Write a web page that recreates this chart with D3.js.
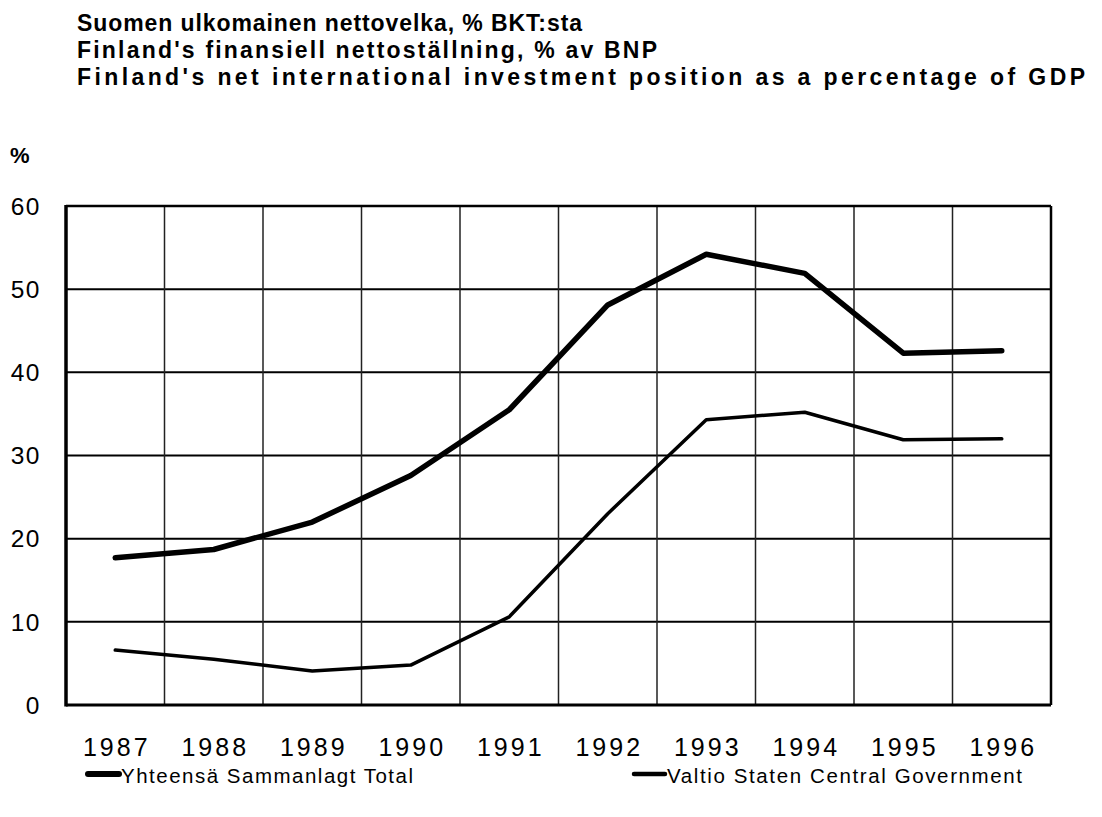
<!DOCTYPE html>
<html><head><meta charset="utf-8">
<script src="https://cdn.jsdelivr.net/npm/d3@7"></script>
<style>body{margin:0;background:#fff}svg{display:block}</style>
</head><body><svg id="c" width="1102" height="817"></svg>
<script>
const years = ["1987","1988","1989","1990","1991","1992","1993","1994","1995","1996"];
const totalValues = [17.7, 18.7, 22.0, 27.6, 35.5, 48.1, 54.2, 51.9, 42.3, 42.6];
const governmentValues = [6.6, 5.5, 4.1, 4.8, 10.6, 23.0, 34.3, 35.2, 31.9, 32.0];
const yTicks = [0, 10, 20, 30, 40, 50, 60];
const titleLines = [
  "Suomen ulkomainen nettovelka, % BKT:sta",
  "Finland's finansiell nettoställning, % av BNP",
  "Finland's net international investment position as a percentage of GDP"
];
const legendLabels = ["Yhteensä Sammanlagt Total", "Valtio Staten Central Government"];

const svg = d3.select("#c");
const L = 66, R = 1051, T = 206, B = 705;
const x = d3.scaleBand().domain(years).range([L, R]);
const y = d3.scaleLinear().domain([0, 60]).range([B, T]);
const font = "'Liberation Sans', Arial, sans-serif";

// title
const titleW = [505, 580, 1008];
svg.selectAll("text.title").data(titleLines).join("text")
  .attr("x", 77).attr("y", (d, i) => 31 + i * 27)
  .attr("font-family", font).attr("font-weight", "bold").attr("font-size", 23)
  .attr("textLength", (d, i) => titleW[i]).attr("lengthAdjust", "spacing")
  .text(d => d);

// % label
svg.append("text").attr("x", 10).attr("y", 163).attr("font-family", font)
  .attr("font-weight", "bold").attr("font-size", 22).text("%");

// grid
const g = svg.append("g");
g.selectAll("line.h").data(yTicks.filter(v => v > 0 && v < 60)).join("line")
  .attr("x1", L).attr("x2", R).attr("y1", d => y(d)).attr("y2", d => y(d))
  .attr("stroke", "#000").attr("stroke-width", 2);
g.selectAll("line.v").data(years.slice(1)).join("line")
  .attr("x1", d => x(d)).attr("x2", d => x(d)).attr("y1", T).attr("y2", B)
  .attr("stroke", "#222").attr("stroke-width", 1.5);
// frame
g.append("line").attr("x1", L).attr("x2", R).attr("y1", T).attr("y2", T).attr("stroke", "#000").attr("stroke-width", 2.5);
g.append("line").attr("x1", R).attr("x2", R).attr("y1", T).attr("y2", B).attr("stroke", "#000").attr("stroke-width", 2.5);
g.append("line").attr("x1", L).attr("x2", R).attr("y1", B).attr("y2", B).attr("stroke", "#000").attr("stroke-width", 3);
g.append("line").attr("x1", L).attr("x2", L).attr("y1", T - 1).attr("y2", B + 1.5).attr("stroke", "#000").attr("stroke-width", 3.5);

// y labels
svg.selectAll("text.yl").data(yTicks).join("text")
  .attr("x", 41).attr("y", d => y(d)).attr("dy", "0.36em")
  .attr("text-anchor", "end").attr("font-family", font).attr("font-size", 24.5)
  .attr("letter-spacing", 1.5).text(d => d);

// x labels
svg.selectAll("text.xl").data(years).join("text")
  .attr("x", d => x(d) + x.bandwidth() / 2 + 1.5).attr("y", 756)
  .attr("text-anchor", "middle").attr("font-family", font).attr("font-size", 25)
  .attr("letter-spacing", 3).text(d => d);

// lines
const line = d3.line().x((d, i) => x(years[i]) + x.bandwidth() / 2).y(d => y(d));
svg.append("path").datum(governmentValues).attr("d", line)
  .attr("fill", "none").attr("stroke", "#000").attr("stroke-width", 3.5)
  .attr("stroke-linejoin", "round").attr("stroke-linecap", "round");
svg.append("path").datum(totalValues).attr("d", line)
  .attr("fill", "none").attr("stroke", "#000").attr("stroke-width", 5.5)
  .attr("stroke-linejoin", "round").attr("stroke-linecap", "round");

// legend
const legX = [88, 634];
const legW = [6, 4.5];
const legTW = [292, 355];
legendLabels.forEach((lab, i) => {
  svg.append("line").attr("x1", legX[i]).attr("x2", legX[i] + 31)
    .attr("y1", 774).attr("y2", 774).attr("stroke", "#000")
    .attr("stroke-width", legW[i]).attr("stroke-linecap", "round");
  svg.append("text").attr("x", legX[i] + 33).attr("y", 783)
    .attr("font-family", font).attr("font-size", 20.5)
    .attr("textLength", legTW[i]).attr("lengthAdjust", "spacing").text(lab);
});
</script></body></html>
